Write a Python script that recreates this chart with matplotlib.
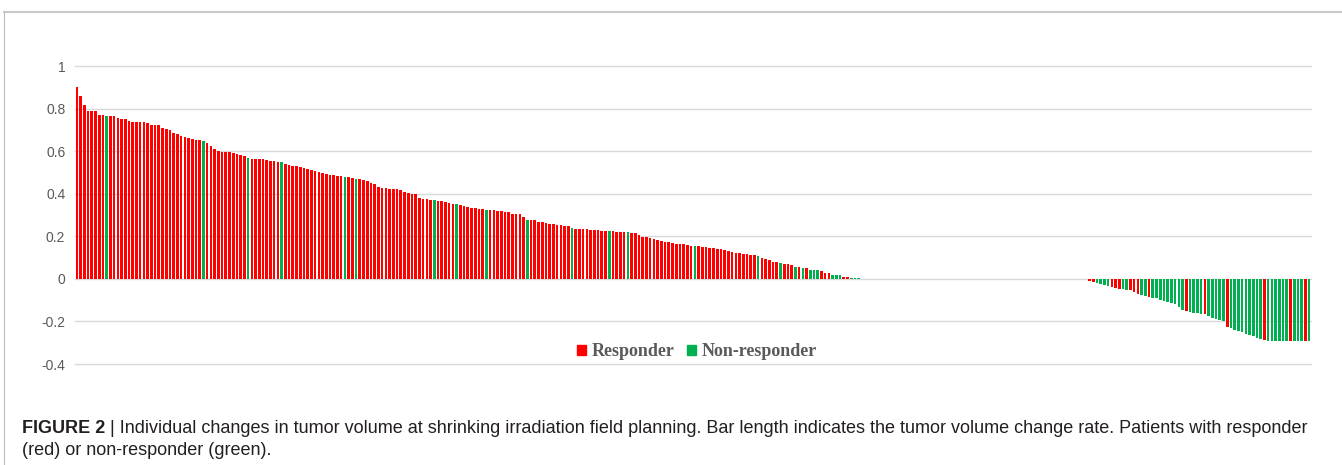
import matplotlib
matplotlib.use("Agg")
import matplotlib.pyplot as plt
from matplotlib.lines import Line2D
from matplotlib.patches import Patch

# tumor volume change rate per patient, sorted
positive_rate = [
    0.90, 0.86, 0.815, 0.79, 0.79, 0.79, 0.77, 0.77, 0.766, 0.765,
    0.765, 0.755, 0.75, 0.75, 0.74, 0.735, 0.735, 0.735, 0.735, 0.733,
    0.725, 0.725, 0.725, 0.71, 0.705, 0.70, 0.685, 0.68, 0.67, 0.665,
    0.66, 0.655, 0.652, 0.65, 0.648, 0.64, 0.625, 0.61, 0.60, 0.595,
    0.595, 0.595, 0.59, 0.585, 0.58, 0.575, 0.568, 0.565, 0.565, 0.562,
    0.562, 0.56, 0.555, 0.553, 0.55, 0.548, 0.54, 0.535, 0.53, 0.528,
    0.525, 0.52, 0.515, 0.51, 0.505, 0.50, 0.497, 0.493, 0.49, 0.487,
    0.485, 0.483, 0.48, 0.478, 0.475, 0.47, 0.468, 0.465, 0.458, 0.45,
    0.445, 0.43, 0.428, 0.425, 0.424, 0.423, 0.42, 0.416, 0.41, 0.405,
    0.40, 0.40, 0.38, 0.376, 0.373, 0.372, 0.37, 0.368, 0.368, 0.362,
    0.358, 0.352, 0.35, 0.345, 0.34, 0.336, 0.335, 0.332, 0.328, 0.326,
    0.325, 0.322, 0.322, 0.32, 0.32, 0.314, 0.313, 0.306, 0.303, 0.303,
    0.29, 0.275, 0.275, 0.275, 0.268, 0.268, 0.262, 0.258, 0.258, 0.252,
    0.252, 0.246, 0.246, 0.238, 0.236, 0.235, 0.235, 0.232, 0.229, 0.229,
    0.229, 0.225, 0.225, 0.223, 0.223, 0.22, 0.22, 0.22, 0.218, 0.217,
    0.217, 0.207, 0.196, 0.195, 0.19, 0.185, 0.182, 0.178, 0.175, 0.172,
    0.168, 0.166, 0.164, 0.162, 0.158, 0.156, 0.155, 0.154, 0.151, 0.149,
    0.146, 0.144, 0.142, 0.14, 0.137, 0.133, 0.128, 0.122, 0.121, 0.118,
    0.115, 0.113, 0.11, 0.106, 0.10, 0.094, 0.087, 0.079, 0.078, 0.075,
    0.072, 0.069, 0.066, 0.058, 0.055, 0.053, 0.05, 0.043, 0.042, 0.041,
    0.039, 0.027, 0.026, 0.019, 0.018, 0.016, 0.011, 0.010, 0.006, 0.006,
    0.005,
]
zero_rate = [0.0] * 61
negative_rate = [
    -0.012, -0.015, -0.02, -0.025, -0.03, -0.035, -0.039, -0.042, -0.046, -0.048,
    -0.05, -0.054, -0.06, -0.07, -0.076, -0.08, -0.085, -0.088, -0.092, -0.097,
    -0.102, -0.107, -0.113, -0.12, -0.132, -0.145, -0.152, -0.157, -0.16, -0.162,
    -0.163, -0.167, -0.175, -0.183, -0.19, -0.195, -0.2, -0.226, -0.233, -0.24,
    -0.245, -0.25, -0.258, -0.265, -0.27, -0.278, -0.284, -0.288, -0.29, -0.29,
    -0.291, -0.291, -0.292, -0.292, -0.292, -0.293, -0.293, -0.293, -0.293, -0.294,
]

# R = responder, N = non-responder
positive_group = (
    "RRRRRRRRNR" "RRRRRRRRRR" "RRRRRRRRRR" "RRRRNRRRRR" "RRRRRRNRRR"
    "RRRRRNRRRR" "RRRRRRRRRR" "RRNRRNRRRR" "RRRRRRRRRR" "RRRRRRNRRR"
    "RRNRRRRRRR" "NRRRRRRRRR" "RNRRRRRRRR" "RRRNRRRRRR" "RRRNRRRRNR"
    "RRRRRRRRRR" "RRRRRRNRRR" "RRRRRRRRRR" "RRRNRRRRRN" "RRRNRNRNNN"
    "RRRNNNRRNN" "N"
)
zero_group = "N" * 61
negative_group = (
    "RRNNNNRRRN" "NRRRNNRNNN" "NNNNNNRNNN" "NRNNNNNRNN" "NNNNNNNRNN"
    "NNNNRNNNRN"
)

yticks = [-0.4, -0.2, 0, 0.2, 0.4, 0.6, 0.8, 1]
ytick_labels = ["-0.4", "-0.2", "0", "0.2", "0.4", "0.6", "0.8", "1"]

rate = positive_rate + zero_rate + negative_rate
group = positive_group + zero_group + negative_group

RED = "#ff0000"
GREEN = "#00b050"
colors = [RED if g == "R" else GREEN for g in group]

W, H = 1342, 465
fig = plt.figure(figsize=(W / 100, H / 100), dpi=100)
ax = fig.add_axes([75 / W, 1 - 364 / H, (1311 - 75) / W, (364 - 66) / H])

ax.bar(range(len(rate)), rate, width=0.7, color=colors, linewidth=0, zorder=3)

ax.set_xlim(-0.5, len(rate) - 0.5)
ax.set_ylim(-0.4, 1.0)
ax.set_yticks(yticks)
ax.set_yticklabels(ytick_labels)
ax.set_xticks([])
ax.tick_params(axis="y", length=0, pad=7, labelsize=10, labelcolor="#595959")
for lab in ax.get_yticklabels():
    lab.set_family("Liberation Sans")
ax.grid(axis="y", color="#d9d9d9", linewidth=1, zorder=0)
for gl in ax.get_ygridlines():
    gl.set_clip_on(False)
for s in ax.spines.values():
    s.set_visible(False)

# legend
handles = [Patch(color=RED, label="Responder"), Patch(color=GREEN, label="Non-responder")]
fig.legend(handles=handles, loc="center", bbox_to_anchor=(697 / W, 1 - 352 / H), ncol=2,
           frameon=False, prop={"family": "Liberation Serif", "weight": "bold", "size": 13},
           labelcolor="#595959", handlelength=0.5, handleheight=0.5,
           handletextpad=0.3, columnspacing=0.7)

# chart frame lines
fig.add_artist(Line2D([4 / W, 1], [1 - 12 / H, 1 - 12 / H], color="#c8c8c8", linewidth=1.5))
fig.add_artist(Line2D([4 / W, 4 / W], [0, 1 - 12 / H], color="#bdbdbd", linewidth=0.8))

# caption
cap = {"family": "Liberation Sans", "size": 13, "color": "#231f20"}
t1 = fig.text(22 / W, 1 - 433 / H, "FIGURE 2", weight="bold", va="baseline", **cap)
ax.annotate(" | Individual changes in tumor volume at shrinking irradiation field planning. "
            "Bar length indicates the tumor volume change rate. Patients with responder",
            xy=(1, 0), xycoords=t1, va="bottom", annotation_clip=False, **cap)
fig.text(22 / W, 1 - 455 / H, "(red) or non-responder (green).", va="baseline", **cap)

fig.savefig("out.png", dpi=100)
